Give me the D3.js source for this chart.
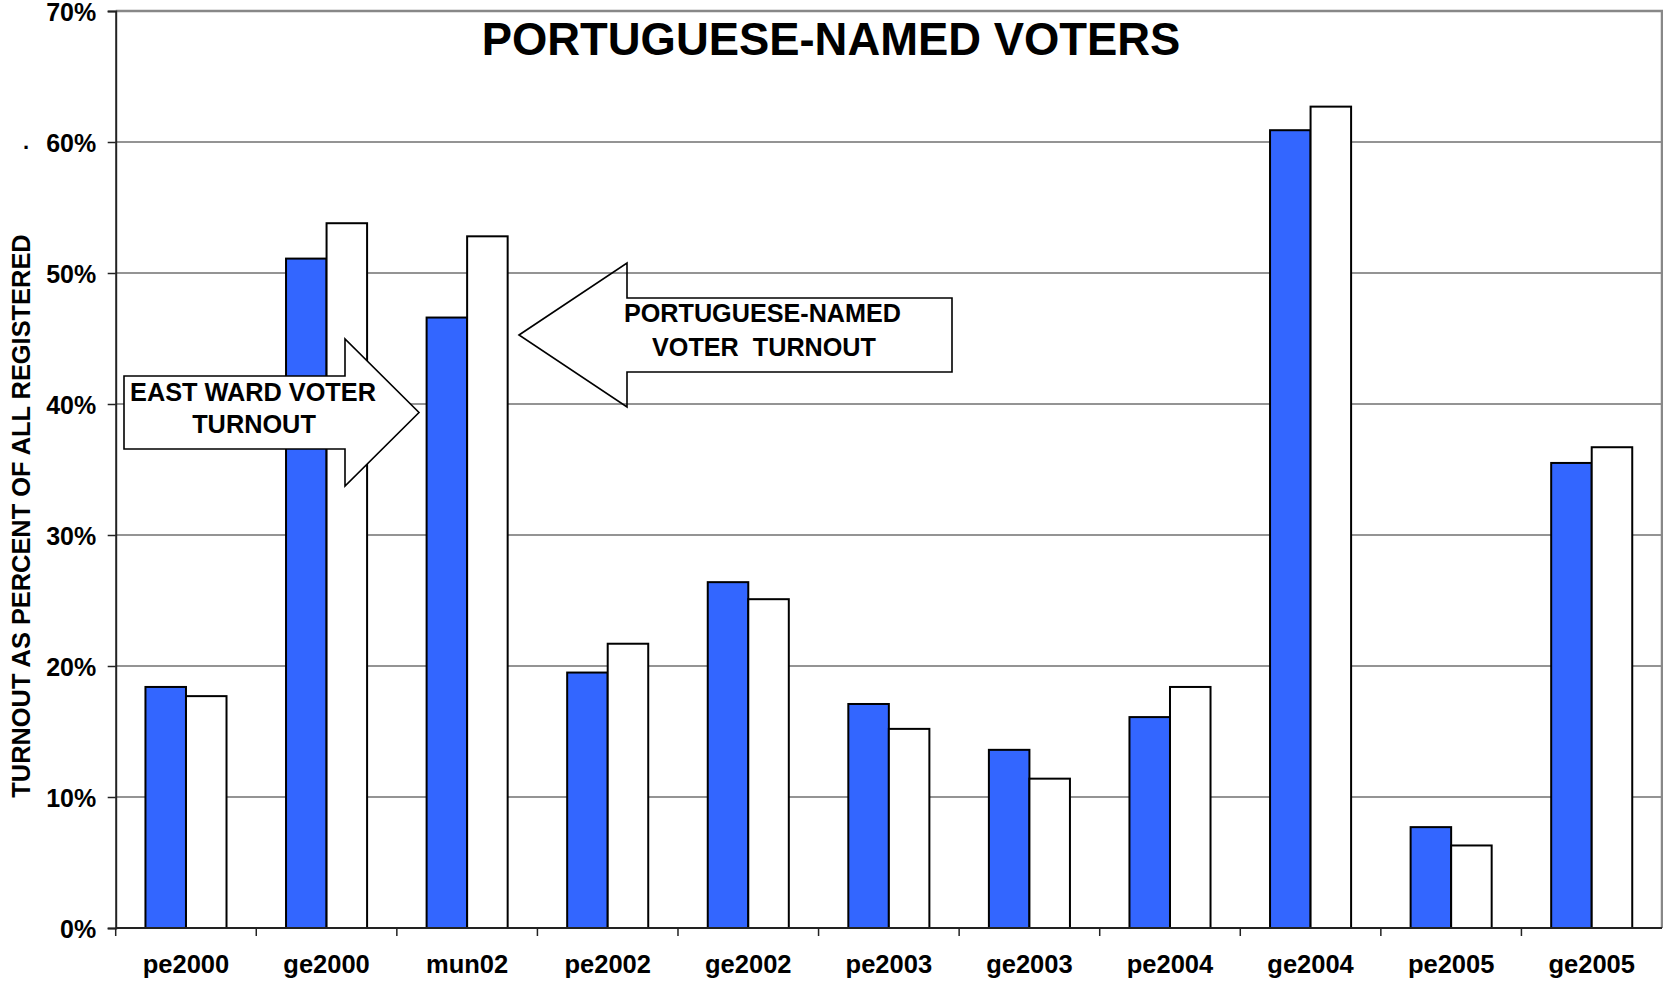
<!DOCTYPE html>
<html>
<head>
<meta charset="utf-8">
<script src="https://cdn.jsdelivr.net/npm/d3@7"></script>
<style>
  body { margin: 0; background: #fff; }
  text { font-family: 'Liberation Sans', Arial, sans-serif; font-weight: bold; fill: #000; }
</style>
</head>
<body>
<div id="the_chart"></div>
<script>
const width = 1663;
const height = 987;
const padLeft = 115.7;
const padRight = 1662;
const padTop = 11;
const padBottom = 928;

const elections = ['pe2000', 'ge2000', 'mun02', 'pe2002', 'ge2002', 'pe2003', 'ge2003', 'pe2004', 'ge2004', 'pe2005', 'ge2005'];
const eastWard = [18.4, 51.1, 46.6, 19.5, 26.4, 17.1, 13.6, 16.1, 60.9, 7.7, 35.5];
const portuguese = [17.7, 53.8, 52.8, 21.7, 25.1, 15.2, 11.4, 18.4, 62.7, 6.3, 36.7];
const yTicks = [0, 10, 20, 30, 40, 50, 60, 70];
const series = ['east', 'port'];

const rows = elections.map((e, i) => ({ name: e, east: eastWard[i], port: portuguese[i] }));

const svg = d3.select('#the_chart')
  .append('svg')
  .attr('width', width)
  .attr('height', height);

const yScale = d3.scaleLinear().domain([0, 70]).range([padBottom, padTop]);

const xScale = d3.scaleBand()
  .domain(elections)
  .range([padLeft, padRight])
  .paddingInner(0.4234)
  .paddingOuter(0.2117);

const sScale = d3.scaleBand()
  .domain(series)
  .range([0, xScale.bandwidth()]);

const gap = (xScale.step() - xScale.bandwidth()) / 2;

// gridlines
svg.append('g')
  .selectAll('line')
  .data(yTicks.filter(t => t > 0 && t < 70))
  .enter().append('line')
  .attr('x1', padLeft).attr('x2', padRight)
  .attr('y1', d => yScale(d)).attr('y2', d => yScale(d))
  .attr('stroke', '#2a2a2a')
  .attr('stroke-width', 1.2);

// frame top + right (grey)
svg.append('path')
  .attr('d', `M${padLeft},${yScale(70)}H${padRight}V${padBottom}`)
  .attr('fill', 'none')
  .attr('stroke', '#888')
  .attr('stroke-width', 2.5);

// bars
const groups = svg.append('g')
  .selectAll('g')
  .data(rows)
  .enter().append('g')
  .attr('transform', d => `translate(${xScale(d.name)},0)`);

groups.selectAll('rect')
  .data(d => series.map(s => ({ key: s, value: d[s] })))
  .enter().append('rect')
  .attr('x', d => sScale(d.key))
  .attr('width', sScale.bandwidth())
  .attr('y', d => yScale(d.value))
  .attr('height', d => padBottom - yScale(d.value))
  .attr('fill', d => d.key === 'east' ? '#3366FF' : '#fff')
  .attr('stroke', '#000')
  .attr('stroke-width', 2);

// y axis
const yAxis = d3.axisLeft(yScale)
  .tickValues(yTicks)
  .tickSize(8)
  .tickPadding(11.5)
  .tickFormat(d => d + '%');

const yG = svg.append('g')
  .attr('transform', `translate(${padLeft},0)`)
  .call(yAxis);
yG.select('.domain').attr('stroke', '#222').attr('stroke-width', 2);
yG.selectAll('.tick line').attr('stroke', '#222').attr('stroke-width', 1.5);
yG.selectAll('.tick text')
  .style('font-size', '25px')
  .attr('dy', '0.36em');

// x axis: labels at band centres, ticks at band edges
const xAxis = d3.axisBottom(xScale)
  .tickSize(0)
  .tickPadding(27);

const xG = svg.append('g')
  .attr('transform', `translate(0,${padBottom})`)
  .call(xAxis);
xG.select('.domain').remove();
xG.selectAll('.tick text').style('font-size', '25.5px');

svg.append('line')
  .attr('x1', padLeft).attr('x2', padRight)
  .attr('y1', padBottom).attr('y2', padBottom)
  .attr('stroke', '#222')
  .attr('stroke-width', 2);

svg.append('g')
  .selectAll('line')
  .data(elections)
  .enter().append('line')
  .attr('x1', d => xScale(d) - gap).attr('x2', d => xScale(d) - gap)
  .attr('y1', padBottom).attr('y2', padBottom + 8)
  .attr('stroke', '#222')
  .attr('stroke-width', 1.5);

// y axis title
svg.append('text')
  .attr('transform', 'translate(29.5,516) rotate(-90)')
  .attr('text-anchor', 'middle')
  .style('font-size', '25.4px')
  .text('TURNOUT AS PERCENT OF ALL REGISTERED');

svg.append('text')
  .attr('x', 23).attr('y', 149)
  .style('font-size', '22px')
  .text('.');

// chart title
svg.append('text')
  .attr('x', 831).attr('y', 55)
  .attr('text-anchor', 'middle')
  .style('font-size', '45.4px')
  .text('PORTUGUESE-NAMED VOTERS');

// annotation arrows
const line = d3.line();

const eastArrow = [[124, 376], [345, 376], [345, 339], [419, 412.5], [345, 486], [345, 449], [124, 449]];
svg.append('path')
  .attr('d', line(eastArrow) + 'Z')
  .attr('fill', '#fff')
  .attr('stroke', '#000')
  .attr('stroke-width', 1.6);

svg.append('text')
  .attr('x', 253).attr('y', 401)
  .attr('text-anchor', 'middle')
  .style('font-size', '25.3px')
  .text('EAST WARD VOTER');
svg.append('text')
  .attr('x', 254).attr('y', 433)
  .attr('text-anchor', 'middle')
  .style('font-size', '25.3px')
  .text('TURNOUT');

const portArrow = [[519, 335], [627, 263], [627, 298], [952, 298], [952, 372], [627, 372], [627, 407]];
svg.append('path')
  .attr('d', line(portArrow) + 'Z')
  .attr('fill', 'none')
  .attr('stroke', '#000')
  .attr('stroke-width', 1.6);

svg.append('text')
  .attr('x', 762.5).attr('y', 322)
  .attr('text-anchor', 'middle')
  .style('font-size', '25.2px')
  .text('PORTUGUESE-NAMED');
svg.append('text')
  .attr('x', 764).attr('y', 356)
  .attr('text-anchor', 'middle')
  .style('font-size', '25.2px')
  .style('white-space', 'pre')
  .text('VOTER  TURNOUT');
</script>
</body>
</html>
